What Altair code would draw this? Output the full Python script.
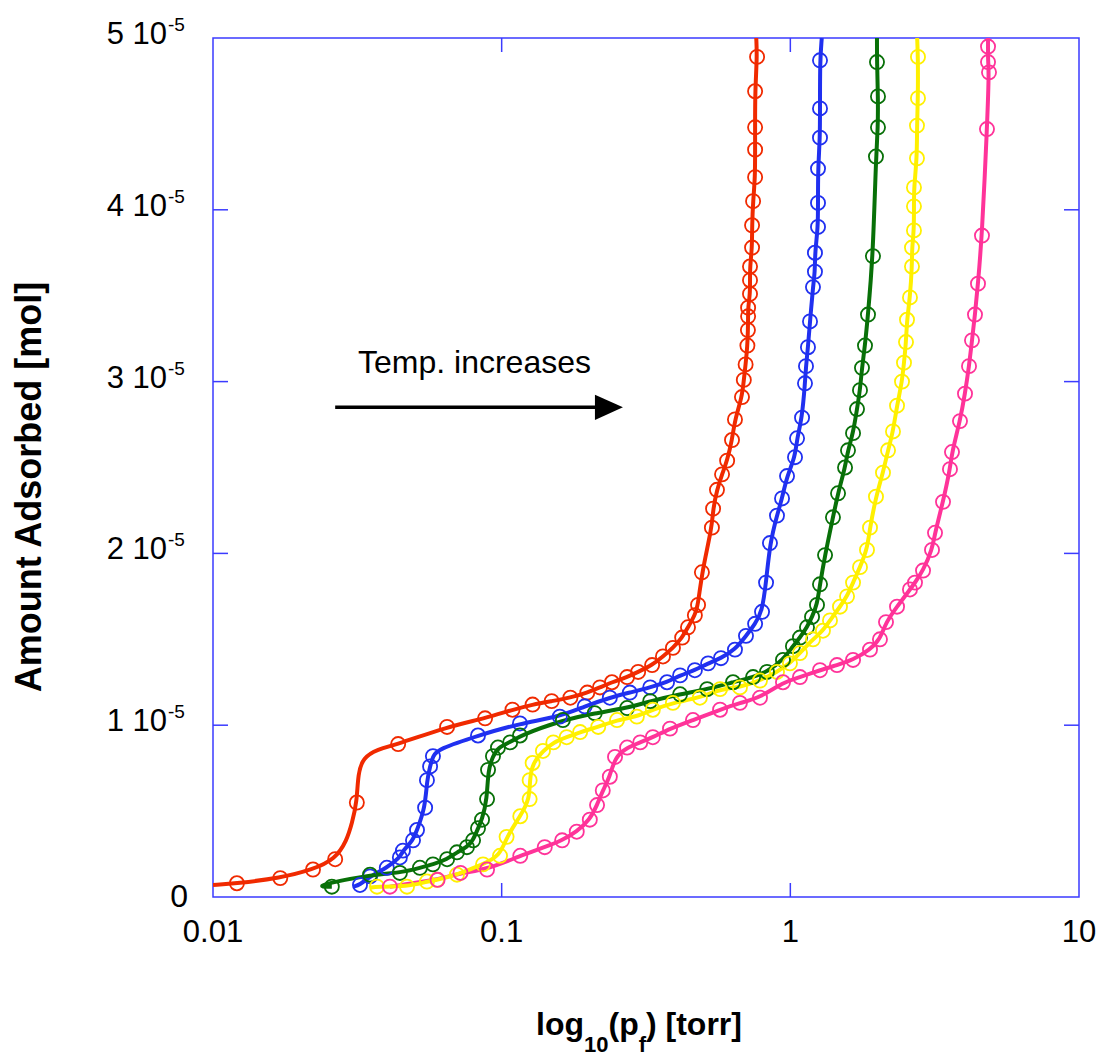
import altair as alt
import pandas as pd

# ---------------- data (pressure in torr, amount in units of 1e-5 mol) ----------------
SERIES = ["red", "blue", "green", "yellow", "pink"]
COLORS = ["#f02a00", "#2030f0", "#087008", "#fff000", "#ff3399"]

X_TICK_VALUES = [0.01, 0.1, 1, 10]
X_TICK_LABELS = ["0.01", "0.1", "1", "10"]
X_INNER_TICKS = [0.1, 1]
Y_INNER_TICKS = [1, 2, 3, 4]
Y_LABEL_VALUES = [1, 2, 3, 4, 5]
Y_LABEL_MAIN = ["1 10", "2 10", "3 10", "4 10", "5 10"]
Y_LABEL_EXP = ["-5", "-5", "-5", "-5", "-5"]

red_p = [0.0121, 0.0171, 0.0222, 0.0265, 0.0315, 0.0438, 0.0647, 0.0876, 0.109, 0.128,
         0.149, 0.173, 0.198, 0.219, 0.241, 0.272, 0.297, 0.332, 0.362, 0.392,
         0.422, 0.442, 0.467, 0.479, 0.494, 0.535, 0.540, 0.557, 0.580, 0.604,
         0.628, 0.643, 0.680, 0.690, 0.700, 0.710, 0.713, 0.714, 0.714, 0.725,
         0.725, 0.725, 0.737, 0.737, 0.743, 0.755, 0.755, 0.755, 0.755, 0.767]
red_n = [0.08, 0.11, 0.16, 0.22, 0.55, 0.89, 0.99, 1.04, 1.09, 1.12,
         1.14, 1.16, 1.19, 1.22, 1.25, 1.28, 1.31, 1.35, 1.40, 1.45,
         1.51, 1.57, 1.64, 1.70, 1.89, 2.15, 2.26, 2.37, 2.46, 2.54,
         2.66, 2.78, 2.91, 3.01, 3.10, 3.21, 3.30, 3.38, 3.43, 3.51,
         3.59, 3.67, 3.78, 3.91, 4.05, 4.19, 4.35, 4.48, 4.69, 4.89]
red_line_p = [0.01, 0.0291, 0.0303, 0.0318, 0.0331, 0.037, 0.762]
red_line_n = [0.07, 0.33, 0.43, 0.72, 0.81, 0.86, 5.0]

blue_p = [0.0323, 0.035, 0.040, 0.0444, 0.0455, 0.0493, 0.0509, 0.0543, 0.0551, 0.0565,
          0.0578, 0.0828, 0.1157, 0.159, 0.194, 0.237, 0.278, 0.327, 0.374, 0.415,
          0.467, 0.519, 0.575, 0.643, 0.702, 0.755, 0.798, 0.824, 0.850, 0.899,
          0.936, 0.974, 1.038, 1.055, 1.098, 1.124, 1.133, 1.151, 1.170, 1.198,
          1.217, 1.217, 1.247, 1.247, 1.247, 1.267, 1.267, 1.267]
blue_n = [0.07, 0.12, 0.17, 0.23, 0.27, 0.33, 0.39, 0.52, 0.68, 0.76,
          0.82, 0.94, 1.01, 1.05, 1.11, 1.16, 1.19, 1.22, 1.25, 1.29,
          1.32, 1.36, 1.39, 1.44, 1.52, 1.59, 1.66, 1.83, 2.06, 2.22,
          2.32, 2.45, 2.56, 2.67, 2.79, 2.99, 3.09, 3.20, 3.35, 3.55,
          3.64, 3.75, 3.90, 4.04, 4.24, 4.42, 4.59, 4.87]
blue_line_p = [0.0306, 0.0600, 1.285]
blue_line_n = [0.06, 0.86, 5.0]

green_p = [0.0258, 0.035, 0.0444, 0.0521, 0.0578, 0.0647, 0.070, 0.0758, 0.0796, 0.0828,
           0.0855, 0.089, 0.0897, 0.0933, 0.0971, 0.107, 0.1157, 0.163, 0.210, 0.272,
           0.327, 0.415, 0.515, 0.633, 0.743, 0.830, 0.943, 1.021, 1.080, 1.142,
           1.189, 1.237, 1.267, 1.319, 1.405, 1.463, 1.547, 1.584, 1.649, 1.702,
           1.743, 1.771, 1.814, 1.858, 1.933, 1.980, 2.012, 2.012, 1.996]
green_n = [0.06, 0.13, 0.14, 0.17, 0.19, 0.22, 0.26, 0.29, 0.33, 0.40,
           0.45, 0.57, 0.74, 0.82, 0.87, 0.90, 0.94, 1.03, 1.07, 1.10,
           1.14, 1.18, 1.21, 1.25, 1.28, 1.31, 1.38, 1.46, 1.51, 1.57,
           1.63, 1.70, 1.82, 1.99, 2.21, 2.35, 2.50, 2.60, 2.70, 2.84,
           2.95, 3.08, 3.21, 3.39, 3.73, 4.31, 4.48, 4.66, 4.86]
green_line_p = [0.022, 1.996]
green_line_n = [0.06, 5.0]

yellow_p = [0.037, 0.047, 0.0551, 0.0597, 0.070, 0.0862, 0.0987, 0.104, 0.116, 0.125,
            0.125, 0.128, 0.139, 0.151, 0.168, 0.187, 0.216, 0.251, 0.294, 0.334,
            0.392, 0.486, 0.571, 0.669, 0.785, 0.899, 0.997, 1.080, 1.198, 1.297,
            1.372, 1.486, 1.572, 1.649, 1.743, 1.843, 1.888, 1.980, 2.094, 2.180,
            2.268, 2.342, 2.437, 2.476, 2.516, 2.536, 2.597, 2.639, 2.639, 2.681,
            2.681, 2.681, 2.746, 2.746, 2.768, 2.768]
yellow_n = [0.06, 0.06, 0.09, 0.10, 0.13, 0.19, 0.24, 0.35, 0.47, 0.57,
            0.68, 0.78, 0.85, 0.90, 0.93, 0.96, 0.99, 1.03, 1.05, 1.09,
            1.13, 1.16, 1.21, 1.22, 1.26, 1.31, 1.36, 1.42, 1.50, 1.55,
            1.61, 1.69, 1.75, 1.83, 1.92, 2.02, 2.15, 2.33, 2.47, 2.60,
            2.71, 2.86, 3.00, 3.11, 3.23, 3.36, 3.49, 3.67, 3.78, 3.88,
            4.02, 4.13, 4.30, 4.49, 4.65, 4.89]
yellow_line_p = [0.035, 2.75]
yellow_line_n = [0.055, 5.0]

pink_p = [0.041, 0.060, 0.072, 0.089, 0.116, 0.141, 0.162, 0.182, 0.202, 0.214,
          0.224, 0.237, 0.247, 0.272, 0.302, 0.334, 0.383, 0.460, 0.571, 0.669,
          0.785, 0.943, 1.080, 1.267, 1.451, 1.649, 1.888, 2.044, 2.145, 2.342,
          2.597, 2.703, 2.882, 3.096, 3.171, 3.380, 3.573, 3.631, 3.870, 4.028,
          4.159, 4.259, 4.362, 4.468, 4.612, 4.800, 4.878, 4.84, 4.84]
pink_n = [0.06, 0.10, 0.14, 0.16, 0.24, 0.29, 0.33, 0.38, 0.45, 0.535,
          0.62, 0.70, 0.815, 0.87, 0.90, 0.93, 0.98, 1.03, 1.09, 1.13,
          1.16, 1.25, 1.28, 1.32, 1.35, 1.38, 1.44, 1.50, 1.60, 1.69,
          1.79, 1.83, 1.90, 2.02, 2.12, 2.30, 2.49, 2.59, 2.77, 2.93,
          3.09, 3.24, 3.39, 3.57, 3.85, 4.47, 4.80, 4.86, 4.95]
pink_line_p = [4.84]
pink_line_n = [5.0]

# annotation anchors (data coordinates)
ARROW_P = [0.0265, 0.219]
ARROW_HEAD_P = 0.2353
ARROW_N = 2.85
NOTE_P = 0.0805
NOTE_N = 3.05
NOTE_TEXT = "Temp. increases"

# ---------------- tables ----------------
pts = {
    "red": (red_p, red_n, red_line_p, red_line_n),
    "blue": (blue_p, blue_n, blue_line_p, blue_line_n),
    "green": (green_p, green_n, green_line_p, green_line_n),
    "yellow": (yellow_p, yellow_n, yellow_line_p, yellow_line_n),
    "pink": (pink_p, pink_n, pink_line_p, pink_line_n),
}
point_rows, line_rows = [], []
for s, (p, n, lp, ln) in pts.items():
    for a, b in zip(p, n):
        point_rows.append({"s": s, "p": a, "n": b})
        line_rows.append({"s": s, "p": a, "n": b})
    for a, b in zip(lp, ln):
        line_rows.append({"s": s, "p": a, "n": b})
points_df = pd.DataFrame(point_rows)
lines_df = pd.DataFrame(line_rows).sort_values(["s", "n"])

W, H = 866, 859
FRAME = "#3b3bff"
FONT = "Liberation Sans"

xs = alt.Scale(type="log", domain=[0.01, 10])
ys = alt.Scale(domain=[0, 5])
cs = alt.Scale(domain=SERIES, range=COLORS)


def X(f):
    return alt.X(f, type="quantitative", scale=xs, axis=None)


def Y(f):
    return alt.Y(f, type="quantitative", scale=ys, axis=None)


lines = alt.Chart(lines_df).mark_line(strokeWidth=4, interpolate="basis", clip=True).encode(
    x=X("p"), y=Y("n"), color=alt.Color("s:N", scale=cs, legend=None), order=alt.Order("n:Q")
)
circles = alt.Chart(points_df).mark_point(shape="circle", filled=False, size=200, strokeWidth=1.8,
                                          opacity=1, clip=True).encode(
    x=X("p"), y=Y("n"), color=alt.Color("s:N", scale=cs, legend=None)
)

# inward ticks
yt = pd.DataFrame({"v": Y_INNER_TICKS})
xt = pd.DataFrame({"v": X_INNER_TICKS})
tick_style = dict(color=FRAME, strokeWidth=1.5)
ticks_l = alt.Chart(yt).mark_rule(**tick_style).encode(y=Y("v"), x=alt.value(0), x2=alt.value(15))
ticks_r = alt.Chart(yt).mark_rule(**tick_style).encode(y=Y("v"), x=alt.value(W - 15), x2=alt.value(W))
ticks_b = alt.Chart(xt).mark_rule(**tick_style).encode(x=X("v"), y=alt.value(H - 14), y2=alt.value(H))
ticks_t = alt.Chart(xt).mark_rule(**tick_style).encode(x=X("v"), y=alt.value(0), y2=alt.value(14))

# tick labels
xl = pd.DataFrame({"v": X_TICK_VALUES, "t": X_TICK_LABELS})
x_labels = alt.Chart(xl).mark_text(font=FONT, fontSize=31, baseline="top", align="center",
                                   color="black").encode(x=X("v"), y=alt.value(H + 21), text="t:N")
yl = pd.DataFrame({"v": Y_LABEL_VALUES, "t": Y_LABEL_MAIN, "e": Y_LABEL_EXP})
y_main = alt.Chart(yl).mark_text(font=FONT, fontSize=31, baseline="middle", align="right", dy=-3,
                                 color="black").encode(y=Y("v"), x=alt.value(-46), text="t:N")
y_exp = alt.Chart(yl).mark_text(font=FONT, fontSize=19, baseline="alphabetic", align="left", dy=-7,
                                color="black").encode(y=Y("v"), x=alt.value(-45), text="e:N")
zl = pd.DataFrame({"v": [0], "t": ["0"]})
y_zero = alt.Chart(zl).mark_text(font=FONT, fontSize=32, baseline="middle", align="right",
                                 color="black").encode(y=Y("v"), x=alt.value(-25), text="t:N")

# axis titles (x title with subscripts built from pieces)
title_parts = []
pieces = [("log", 323, 997, 32), ("10", 371, 1014, 22), ("(p", 395.5, 997, 32),
          ("f", 425.7, 1014, 22), (") [torr]", 433, 997, 32)]
for txt, px, py, fs in pieces:
    title_parts.append(
        alt.Chart(pd.DataFrame({"t": [txt]})).mark_text(
            font=FONT, fontSize=fs, fontWeight="bold", align="left", baseline="alphabetic", color="black"
        ).encode(x=alt.value(px), y=alt.value(py), text="t:N")
    )
y_title = alt.Chart(pd.DataFrame({"t": ["Amount Adsorbed [mol]"]})).mark_text(
    font=FONT, fontSize=36, fontWeight="bold", angle=270, align="center", baseline="middle", color="black"
).encode(x=alt.value(-183), y=alt.value(449), text="t:N")

# annotation
arrow_df = pd.DataFrame({"a": [ARROW_P[0]], "b": [ARROW_P[1]], "n": [ARROW_N]})
arrow = alt.Chart(arrow_df).mark_rule(color="black", strokeWidth=3.5).encode(
    x=X("a"), x2="b", y=Y("n"))
head = alt.Chart(pd.DataFrame({"p": [ARROW_HEAD_P], "n": [ARROW_N]})).mark_point(
    shape="M-1,-0.9L1,0L-1,0.9Z", size=784, filled=True, color="black", opacity=1, strokeWidth=0
).encode(x=X("p"), y=Y("n"))
note = alt.Chart(pd.DataFrame({"p": [NOTE_P], "n": [NOTE_N], "t": [NOTE_TEXT]})).mark_text(
    font=FONT, fontSize=32, align="center", baseline="alphabetic", color="black"
).encode(x=X("p"), y=Y("n"), text="t:N")

chart = alt.layer(
    lines, circles, ticks_l, ticks_r, ticks_b, ticks_t,
    x_labels, y_main, y_exp, y_zero, *title_parts, y_title, arrow, head, note
).properties(
    width=W, height=H,
    autosize=alt.AutoSizeParams(type="none"),
    padding={"left": 213, "top": 38, "right": 23, "bottom": 160},
    background="white",
).configure_view(stroke=FRAME, strokeWidth=1.5)

chart.save("out.html", embed_options={"renderer": "svg", "actions": False})
